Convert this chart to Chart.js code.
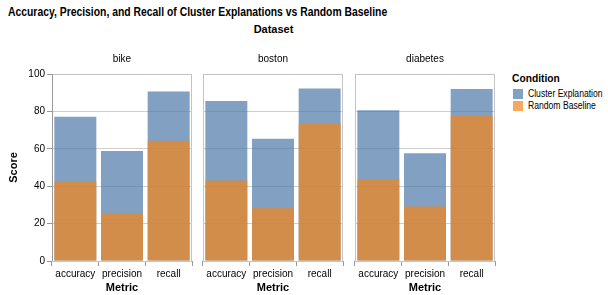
<!DOCTYPE html>
<html>
<head>
<meta charset="utf-8">
<script src="https://cdn.jsdelivr.net/npm/chart.js@4/dist/chart.umd.min.js"></script>
<style>
  body { margin: 0; background: #fff; font-family: "Liberation Sans", Arial, sans-serif; }
  #wrap { position: relative; width: 608px; height: 295px; overflow: hidden; }
  canvas { position: absolute; top: 0; }
  .txt { position: absolute; white-space: nowrap; color: #000; transform-origin: 0 50%; }
  .sw { position: absolute; width: 10px; height: 10px; }
</style>
</head>
<body>
<div id="wrap">
  <div class="txt" style="left:8px;top:5px;font-size:12.5px;font-weight:bold;transform:scaleX(0.83);">Accuracy, Precision, and Recall of Cluster Explanations vs Random Baseline</div>
  <div class="txt" style="left:0;width:547px;text-align:center;top:23px;font-size:11px;font-weight:bold;">Dataset</div>
  <canvas id="c0" width="195" height="295" style="left:0"></canvas>
  <canvas id="c1" width="146" height="295" style="left:200px"></canvas>
  <canvas id="c2" width="146" height="295" style="left:352px"></canvas>
  <div class="txt" style="left:512px;top:72px;font-size:11px;font-weight:bold;transform:scaleX(0.93);">Condition</div>
  <div class="sw" style="left:513px;top:89px;background:rgba(76,120,168,0.7)"></div>
  <div class="txt" style="left:528px;top:88px;font-size:10px;transform:scaleX(0.86);">Cluster Explanation</div>
  <div class="sw" style="left:513px;top:101px;background:rgba(245,133,24,0.7)"></div>
  <div class="txt" style="left:528px;top:100px;font-size:10px;transform:scaleX(0.86);">Random Baseline</div>
</div>
<script>
const datasets  = ['bike', 'boston', 'diabetes'];
const metrics   = ['accuracy', 'precision', 'recall'];
const clusterExp = {
  bike:     [77.2, 58.8, 90.6],
  boston:   [85.6, 65.4, 92.3],
  diabetes: [80.6, 57.6, 92.0]
};
const randomBase = {
  bike:     [42.4, 25.5, 64.3],
  boston:   [43.0, 28.2, 73.6],
  diabetes: [43.7, 29.1, 77.7]
};
const yTicks = [0, 20, 40, 60, 80, 100];

const FONT = '"Liberation Sans", Arial, sans-serif';
Chart.defaults.font.family = FONT;
Chart.defaults.color = '#000';

// cadre gris autour de chaque panneau + en-tête de facette
const framePlugin = {
  id: 'frame',
  afterDraw(chart, args, opts) {
    const a = chart.chartArea, ctx = chart.ctx;
    ctx.save();
    ctx.strokeStyle = '#c4c4c4';
    ctx.lineWidth = 1;
    ctx.strokeRect(a.left + 0.5, a.top + 0.5, a.right - a.left - 1, a.bottom - a.top);
    if (opts.first) {
      ctx.strokeStyle = '#999';
      ctx.beginPath();
      ctx.moveTo(a.left + 0.5, a.top);
      ctx.lineTo(a.left + 0.5, a.bottom);
      ctx.stroke();
    }
    ctx.fillStyle = '#000';
    ctx.font = '10px ' + FONT;
    ctx.textAlign = 'center';
    ctx.textBaseline = 'middle';
    ctx.fillText(opts.header, (a.left + a.right) / 2, 59);
    ctx.restore();
  }
};

datasets.forEach((name, i) => {
  const first = i === 0;
  const ctx = document.getElementById('c' + i).getContext('2d');
  new Chart(ctx, {
    type: 'bar',
    data: {
      labels: metrics,
      datasets: [
        { label: 'Cluster Explanation', data: clusterExp[name],
          backgroundColor: 'rgba(76,120,168,0.7)', order: 2 },
        { label: 'Random Baseline', data: randomBase[name],
          backgroundColor: 'rgba(245,133,24,0.7)', order: 1 }
      ]
    },
    plugins: [framePlugin],
    options: {
      responsive: false,
      animation: false,
      grouped: false,
      barPercentage: 0.9,
      categoryPercentage: 1,
      layout: { padding: { top: 74, right: 3, bottom: 0, left: first ? 0 : 3 } },
      plugins: {
        legend: { display: false },
        tooltip: { enabled: false },
        frame: { header: name, first: first }
      },
      scales: {
        x: {
          grid: { display: true, drawOnChartArea: false, drawTicks: true, tickLength: 5, color: '#999' },
          border: { display: false },
          ticks: { font: { size: 10 }, padding: 2, maxRotation: 0 },
          title: { display: true, text: 'Metric', font: { size: 11, weight: 'bold' }, padding: { top: 0, bottom: 0 } },
          afterFit: s => { s.height = 34; }
        },
        y: {
          min: 0, max: 100,
          afterBuildTicks: s => { s.ticks = yTicks.map(v => ({ value: v })); },
          grid: { color: '#cfcfcf', drawTicks: first, tickLength: 5, tickColor: '#999' },
          border: { display: false },
          ticks: { display: first, font: { size: 10 }, padding: 2 },
          title: { display: first, text: 'Score', font: { size: 11, weight: 'bold' }, padding: { top: 7 } },
          afterFit: s => { s.width = first ? 52 : 0; }
        }
      }
    }
  });
});
</script>
</body>
</html>
